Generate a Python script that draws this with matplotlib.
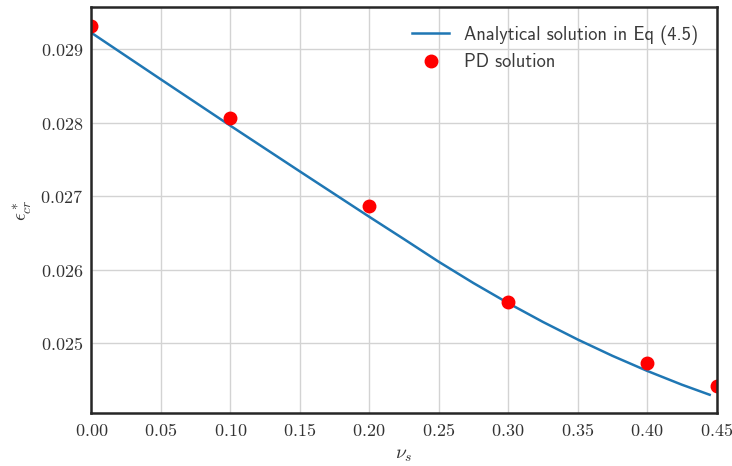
import matplotlib
matplotlib.use("Agg")
import matplotlib.pyplot as plt
from matplotlib.ticker import FormatStrFormatter, MultipleLocator

# analytical curve
nu_line = [0.0, 0.05, 0.10, 0.15, 0.20, 0.225, 0.25, 0.275, 0.30,
           0.325, 0.35, 0.375, 0.40, 0.425, 0.445]
eps_line = [0.029226, 0.028592, 0.027962, 0.027340, 0.026722, 0.026418,
            0.026110, 0.025820, 0.025547, 0.025291, 0.025052, 0.024830,
            0.024625, 0.024437, 0.024300]

# PD solution points
nu_pd = [0.0, 0.10, 0.20, 0.30, 0.40, 0.45]
eps_pd = [0.029317, 0.028060, 0.026868, 0.025560, 0.024728, 0.024415]

plt.rcParams['mathtext.fontset'] = 'cm'

fig = plt.figure(figsize=(7.32, 4.66), dpi=100)
ax = fig.add_axes([0.1247, 0.1131, 0.979 - 0.1247, 0.985 - 0.1131])

ax.grid(True, color='#d3d3d3', linewidth=1.0)
ax.set_axisbelow(True)

ax.plot(nu_line, eps_line, color='#1f77b4', linewidth=1.8,
        label='Analytical solution in Eq (4.5)')
ax.plot(nu_pd, eps_pd, 'o', color='red', markersize=9,
        label='PD solution')

ax.set_xlim(0, 0.45)
ax.set_ylim(0.024048, 0.029576)
ax.xaxis.set_major_locator(MultipleLocator(0.05))
ax.yaxis.set_major_locator(MultipleLocator(0.001))
ax.xaxis.set_major_formatter(FormatStrFormatter(r'$%.2f$'))
ax.yaxis.set_major_formatter(FormatStrFormatter(r'$%.3f$'))
ax.tick_params(length=0, labelsize=13, labelcolor='#333333', pad=6)

for s in ax.spines.values():
    s.set_color('#262626')
    s.set_linewidth(1.8)

ax.set_xlabel(r'$\nu_s$', fontsize=14, color='#333333')
ax.set_ylabel(r'$\epsilon^*_{cr}$', fontsize=14, color='#333333')

leg = ax.legend(loc='upper right', frameon=False,
                prop={'family': ['cmss10', 'DejaVu Sans'], 'size': 13.3},
                handlelength=2.0, labelspacing=0.45, borderaxespad=0.6)
for t in leg.get_texts():
    t.set_color('#3a3a3a')

fig.savefig('out.png', dpi=100)
